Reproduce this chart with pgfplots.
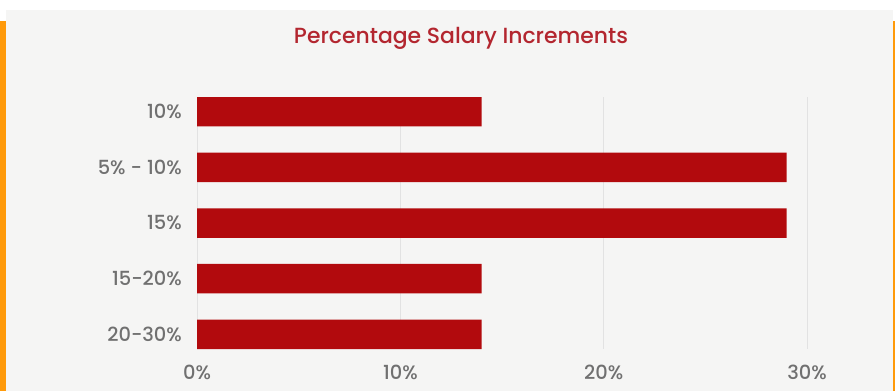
\documentclass[border=0pt]{standalone}
\usepackage{pgfplots}
\pgfplotsset{compat=1.18}
\usepackage{fontspec}
\setmainfont{Poppins}
\newfontfamily\medfont{Poppins Medium}
\definecolor{barred}{HTML}{B20A0D}
\definecolor{titlered}{HTML}{B3262F}
\definecolor{bgc}{HTML}{F5F5F4}
\definecolor{orangeb}{HTML}{FF9A0A}
\definecolor{gridc}{HTML}{E2E2E2}
\definecolor{tickc}{HTML}{707070}
\begin{document}
\begin{tikzpicture}[x=1bp,y=1bp]
\fill[white] (0,0) rectangle (895,391);
\fill[bgc] (6,0) rectangle (893,381);
\fill[orangeb] (0,0) rectangle (6,370);
\fill[orangeb] (893,0) rectangle (895,370);
\node[titlered, font=\fontsize{22}{26}\medfont, inner sep=0pt] at (461,353) {Percentage Salary Increments};
\begin{axis}[at={(197bp,42bp)}, anchor=south west, scale only axis,
  width=610bp, height=252bp,
  xbar, bar width=29.5bp,
  xmin=0, xmax=30, ymin=-0.265, ymax=4.265, y dir=reverse,
  ytick={0,1,2,3,4},
  yticklabels={10\%, 5\% - 10\%, 15\%, 15-20\%, 20-30\%},
  xtick={0,10,20,30},
  xticklabel={\pgfmathprintnumber{\tick}\%},
  axis line style={draw=none}, major tick length=0pt,
  xmajorgrids, grid style={gridc, line width=0.8bp},
  tick label style={tickc, font=\fontsize{19.5}{23}\medfont},
  /pgf/number format/assume math mode=true,
  y tick label style={anchor=east, inner sep=0pt, xshift=-15bp},
  x tick label style={anchor=base, inner sep=0pt, yshift=-30bp},
]
\addplot[fill=barred, draw=none] coordinates {(14,0) (29,1) (29,2) (14,3) (14,4)};
\end{axis}
\end{tikzpicture}
\end{document}
